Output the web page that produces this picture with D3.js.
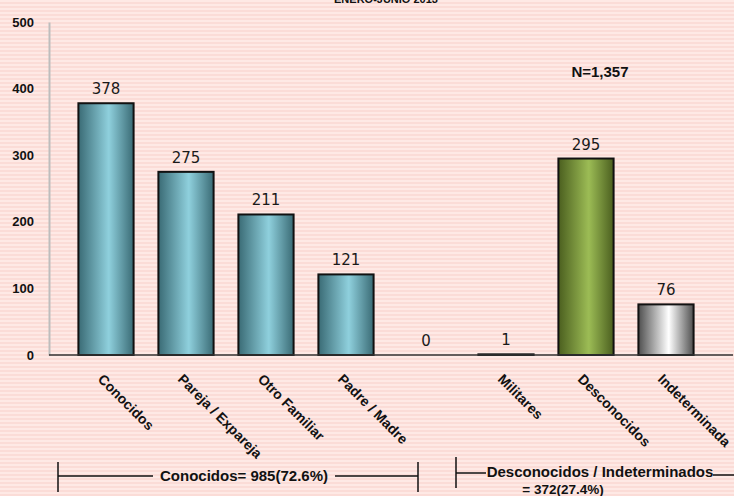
<!DOCTYPE html>
<html>
<head>
<meta charset="utf-8">
<script src="https://cdn.jsdelivr.net/npm/d3@7"></script>
<style>
html,body{margin:0;padding:0;background:#fde6e2;}
svg{display:block;}
</style>
</head>
<body>
<svg id="chart" width="734" height="496"></svg>
<script>
// ---- data ----
const categories = ["Conocidos","Pareja / Expareja","Otro Familiar","Padre / Madre","","Militares","Desconocidos","Indeterminada"];
const values = [378, 275, 211, 121, 0, 1, 295, 76];
const colorGroups = ["teal","teal","teal","teal","teal","teal","green","gray"];
const yTicks = [0, 100, 200, 300, 400, 500];
const titleText = "ENERO-JUNIO 2013";
const totalText = "N=1,357";
const groupLabel1 = "Conocidos= 985(72.6%)";
const groupLabel2a = "Desconocidos / Indeterminados";
const groupLabel2b = "= 372(27.4%)";

const W = 734, H = 496;
const svg = d3.select("#chart");
const defs = svg.append("defs");

// striped background
const pat = defs.append("pattern").attr("id","stripes").attr("patternUnits","userSpaceOnUse")
  .attr("width", 4).attr("height", 4);
pat.append("rect").attr("width",4).attr("height",4).attr("fill","#fee9e5");
pat.append("rect").attr("y",2).attr("width",4).attr("height",2).attr("fill","#fbdcd7");
svg.append("rect").attr("width",W).attr("height",H).attr("fill","url(#stripes)");

// gradients
const grads = {
  teal: ["#3a6b75", "#8fd0dd"],
  green: ["#4b5f1f", "#9cbc55"],
  gray: ["#4f4f4f", "#ffffff"]
};
Object.entries(grads).forEach(([k,[edge,mid]]) => {
  const g = defs.append("linearGradient").attr("id","g-"+k).attr("x1","0").attr("x2","1").attr("y1","0").attr("y2","0");
  g.append("stop").attr("offset","0%").attr("stop-color",edge);
  g.append("stop").attr("offset","55%").attr("stop-color",mid);
  g.append("stop").attr("offset","100%").attr("stop-color",edge);
});

// scales
const x = d3.scaleBand().domain(d3.range(categories.length)).range([66, 706]).paddingInner(0.31).paddingOuter(0.155);
const y = d3.scaleLinear().domain([0, 500]).range([355, 22]);

// title (cut off at top edge, as in the reference)
svg.append("text").attr("x", 386).attr("y", 3).attr("text-anchor","middle")
  .attr("font-family","Liberation Sans, Arial, sans-serif").attr("font-weight","bold").attr("font-size",11)
  .attr("fill","#111").text(titleText);

// y axis
const yAxis = d3.axisLeft(y).tickValues(yTicks).tickSize(0).tickPadding(15).tickFormat(d3.format("d"));
const ya = svg.append("g").attr("transform","translate(49,0)").call(yAxis);
ya.select(".domain").attr("stroke","#bdbdbd").attr("stroke-width",2);
ya.selectAll("text").attr("font-family","Liberation Sans, Arial, sans-serif").attr("font-weight","bold")
  .attr("font-size",13).attr("fill","#111");

// bars
svg.append("g").selectAll("rect").data(values).join("rect")
  .attr("x",(d,i)=>x(i)).attr("width",x.bandwidth())
  .attr("y",d=>y(d)).attr("height",d=>y(0)-y(d))
  .attr("fill",(d,i)=>"url(#g-"+colorGroups[i]+")")
  .attr("stroke","#111").attr("stroke-width",2)
  .attr("display",d=>d===0?"none":null);

// x axis line
const xAxis = d3.axisBottom(x).tickSize(0).tickFormat("");
const xa = svg.append("g").attr("transform","translate(0,355)").call(xAxis);
xa.select(".domain").attr("d","M49,0H733").attr("stroke","#333").attr("stroke-width",1.5);

// value labels
svg.append("g").selectAll("text").data(values).join("text")
  .attr("x",(d,i)=>x(i)+x.bandwidth()/2)
  .attr("y",d=>y(d)-9)
  .attr("text-anchor","middle")
  .attr("font-family","DejaVu Sans, Verdana, sans-serif").attr("font-size",15).attr("fill","#1a1a1a")
  .text(d=>d);

// category labels rotated
svg.append("g").selectAll("text").data(categories).join("text")
  .attr("transform",(d,i)=>`translate(${x(i)+x.bandwidth()/2-9},380) rotate(45)`)
  .attr("font-family","Liberation Sans, Arial, sans-serif").attr("font-weight","bold").attr("font-size",14)
  .attr("fill","#111").text(d=>d);

// N label
svg.append("text").attr("x",600).attr("y",77).attr("text-anchor","middle")
  .attr("font-family","Liberation Sans, Arial, sans-serif").attr("font-weight","bold").attr("font-size",15)
  .attr("fill","#111").text(totalText);

// group brackets
const br = svg.append("g").attr("stroke","#111").attr("stroke-width",1.5);
br.append("line").attr("x1",58).attr("x2",58).attr("y1",462).attr("y2",492);
br.append("line").attr("x1",418).attr("x2",418).attr("y1",462).attr("y2",492);
br.append("line").attr("x1",58).attr("x2",153).attr("y1",476).attr("y2",476);
br.append("line").attr("x1",335).attr("x2",418).attr("y1",476).attr("y2",476);
br.append("line").attr("x1",456).attr("x2",456).attr("y1",457).attr("y2",488);
br.append("line").attr("x1",456).attr("x2",486).attr("y1",473).attr("y2",473);
br.append("line").attr("x1",713).attr("x2",734).attr("y1",475).attr("y2",475);

const lbl = svg.append("g").attr("font-family","Liberation Sans, Arial, sans-serif")
  .attr("font-weight","bold").attr("fill","#111");
lbl.append("text").attr("x",244).attr("y",481).attr("text-anchor","middle").attr("font-size",15).text(groupLabel1);
lbl.append("text").attr("x",600).attr("y",477).attr("text-anchor","middle").attr("font-size",15).text(groupLabel2a);
lbl.append("text").attr("x",563).attr("y",494).attr("text-anchor","middle").attr("font-size",13.5).text(groupLabel2b);
</script>
</body>
</html>
